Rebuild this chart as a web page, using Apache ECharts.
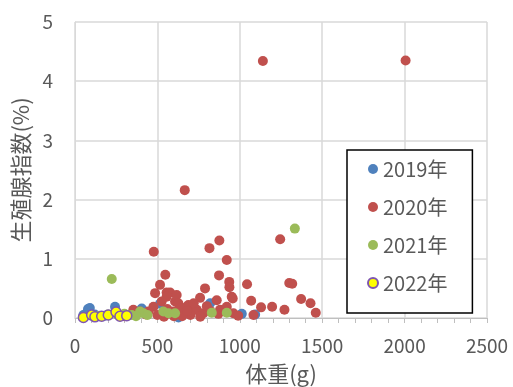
<!DOCTYPE html>
<html>
<head>
<meta charset="utf-8">
<script src="https://cdn.jsdelivr.net/npm/echarts@6/dist/echarts.min.js"></script>
<style>
  html, body {margin: 0; padding: 0; background: #fff;}
  #chart {width: 513px; height: 387px;}
</style>
</head>
<body>
<div id="chart"></div>
<script>
// 体重(g), 生殖腺指数(%)
const years = ['2019年', '2020年', '2021年', '2022年'];
const xTicks = [0, 500, 1000, 1500, 2000, 2500];
const yTicks = [0, 1, 2, 3, 4, 5];

const data2019 = [
  [51, 0.05], [79, 0.15], [90, 0.17], [243, 0.19], [405, 0.16], [516, 0.24],
  [628, 0.01], [820, 0.25], [1012, 0.07], [1093, 0.06], [70, 0.08], [120, 0.06],
  [180, 0.04], [330, 0.05], [640, 0.05]
];
const data2020 = [
  [1140, 4.34], [2006, 4.35], [666, 2.16], [876, 1.31], [816, 1.18], [1245, 1.33],
  [478, 1.12], [921, 0.98], [548, 0.73], [874, 0.72], [936, 0.61], [937, 0.52],
  [1044, 0.57], [1300, 0.59], [1318, 0.58], [516, 0.56], [486, 0.42], [556, 0.43],
  [577, 0.43], [789, 0.50], [957, 0.33], [1069, 0.29], [759, 0.34], [607, 0.28],
  [617, 0.39], [556, 0.36], [526, 0.28], [627, 0.25], [688, 0.22], [860, 0.30],
  [951, 0.36], [476, 0.19], [445, 0.11], [597, 0.11], [658, 0.08], [708, 0.11],
  [739, 0.14], [779, 0.08], [880, 0.14], [961, 0.08], [354, 0.14], [395, 0.11],
  [1083, 0.05], [1129, 0.18], [1196, 0.19], [1271, 0.14], [1372, 0.32], [1429, 0.25],
  [1461, 0.09], [678, 0.19], [870, 0.07], [921, 0.19], [640, 0.16], [700, 0.05],
  [720, 0.25], [760, 0.02], [820, 0.12], [560, 0.15], [600, 0.03], [500, 0.05],
  [540, 0.02], [650, 0.03], [680, 0.12], [800, 0.20], [990, 0.04], [430, 0.06],
  [300, 0.03]
];
const data2021 = [
  [223, 0.66], [1334, 1.51], [344, 0.05], [395, 0.11], [415, 0.08], [536, 0.11],
  [567, 0.08], [607, 0.08], [830, 0.09], [921, 0.09], [150, 0.04], [200, 0.06],
  [260, 0.05], [300, 0.07], [370, 0.03], [440, 0.05]
];
const data2022 = [
  [51, 0.01], [101, 0.05], [121, 0.02], [162, 0.03], [202, 0.05], [249, 0.10],
  [273, 0.03], [314, 0.04]
];

const font = '"Noto Sans CJK JP", "Noto Sans", sans-serif';
const grey = '#595959';

const chart = echarts.init(document.getElementById('chart'));
chart.setOption({
  animation: false,
  textStyle: {fontFamily: font},
  grid: {left: 75, right: 26, top: 22, bottom: 69, containLabel: false, outerBoundsMode: 'none'},
  xAxis: {
    type: 'value',
    min: xTicks[0], max: xTicks[xTicks.length - 1], interval: 500,
    name: '体重(g)', nameLocation: 'middle', nameGap: 45,
    nameTextStyle: {color: grey, fontSize: 22, fontFamily: font},
    axisLine: {show: true, lineStyle: {color: '#bfbfbf', width: 1}},
    axisTick: {show: true, length: 5, lineStyle: {color: '#bfbfbf'}},
    minorTick: {show: true, splitNumber: 5, length: 5, lineStyle: {color: '#bfbfbf'}},
    axisLabel: {color: grey, fontSize: 19, margin: 18, fontFamily: font,
      formatter: v => String(v)},
    splitLine: {show: true, lineStyle: {color: '#d9d9d9', width: 1.5}}
  },
  yAxis: {
    type: 'value',
    min: yTicks[0], max: yTicks[yTicks.length - 1], interval: 1,
    name: '生殖腺指数(%)', nameLocation: 'middle', nameGap: 42,
    nameTextStyle: {color: grey, fontSize: 22, fontFamily: font},
    axisLine: {show: true, lineStyle: {color: '#d9d9d9', width: 1}},
    axisTick: {show: false},
    axisLabel: {color: grey, fontSize: 19, margin: 22, fontFamily: font},
    splitLine: {show: true, lineStyle: {color: '#d9d9d9', width: 1.5}}
  },
  legend: {
    orient: 'vertical',
    left: 347, top: 150,
    padding: [9, 25, 20, 20],
    itemGap: 18,
    itemWidth: 10, itemHeight: 10,
    borderColor: '#000', borderWidth: 1.5,
    backgroundColor: '#fff',
    textStyle: {color: grey, fontSize: 20, fontFamily: font},
    data: years
  },
  series: [
    {name: years[0], type: 'scatter', symbolSize: 10, data: data2019,
     itemStyle: {color: '#4f81bd', opacity: 1}},
    {name: years[1], type: 'scatter', symbolSize: 10, data: data2020,
     itemStyle: {color: '#c0504d', opacity: 1}},
    {name: years[2], type: 'scatter', symbolSize: 10, data: data2021,
     itemStyle: {color: '#9bbb59', opacity: 1}},
    {name: years[3], type: 'scatter', symbolSize: 10, data: data2022,
     itemStyle: {color: '#ffff00', borderColor: '#7f56b0', borderWidth: 1.5, opacity: 1}}
  ]
});
</script>
</body>
</html>
